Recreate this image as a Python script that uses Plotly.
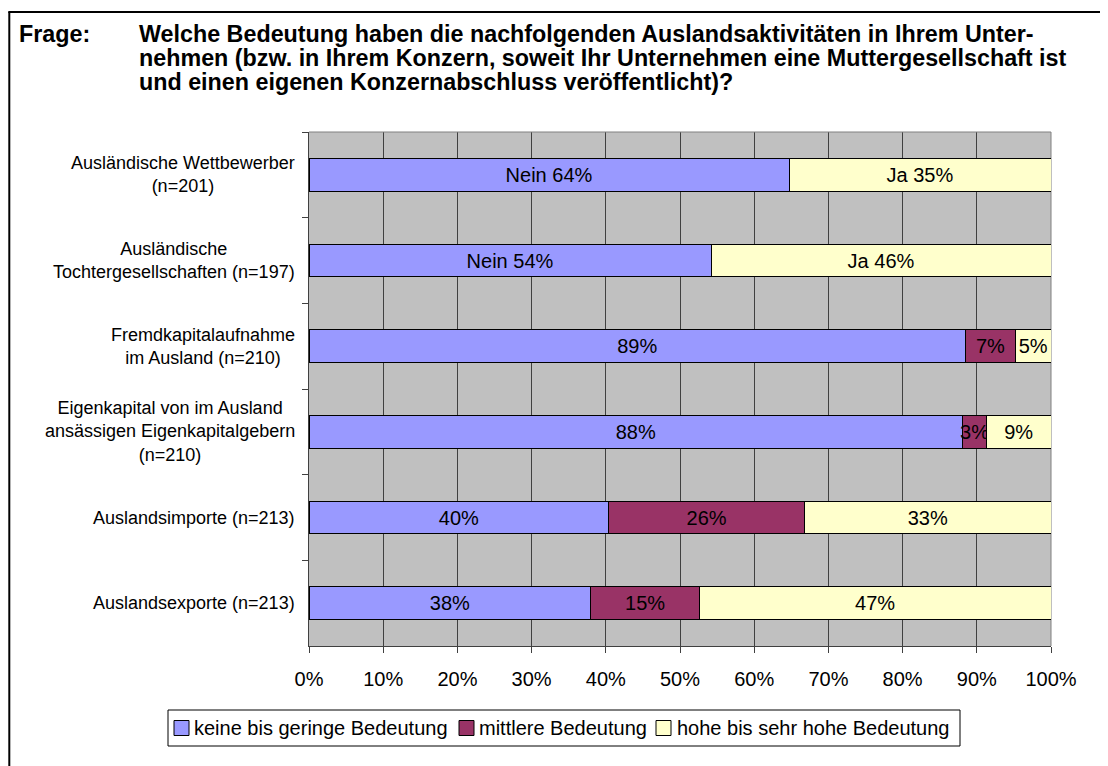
import plotly.graph_objects as go

# ---- data ----
categories = [
    "Ausländische Wettbewerber<br>(n=201)",
    "Ausländische<br>Tochtergesellschaften (n=197)",
    "Fremdkapitalaufnahme<br>im Ausland (n=210)",
    "Eigenkapital von im Ausland<br>ansässigen Eigenkapitalgebern<br>(n=210)",
    "Auslandsimporte (n=213)",
    "Auslandsexporte (n=213)",
]
series_names = ["keine bis geringe Bedeutung", "mittlere Bedeutung", "hohe bis sehr hohe Bedeutung"]
low_values = [64.7, 54.2, 88.5, 88.1, 40.4, 38.0]
mid_values = [None, None, 6.7, 3.2, 26.4, 14.6]
high_values = [35.3, 45.8, 4.8, 8.7, 33.2, 47.4]
low_labels = ["Nein 64%", "Nein 54%", "89%", "88%", "40%", "38%"]
mid_labels = ["", "", "7%", "3%", "26%", "15%"]
high_labels = ["Ja 35%", "Ja 46%", "5%", "9%", "33%", "47%"]
x_ticks = [0, 10, 20, 30, 40, 50, 60, 70, 80, 90, 100]

title_label = "Frage:"
title_lines = [
    "Welche Bedeutung haben die nachfolgenden Auslandsaktivitäten in Ihrem Unter-",
    "nehmen (bzw. in Ihrem Konzern, soweit Ihr Unternehmen eine Muttergesellschaft ist",
    "und einen eigenen Konzernabschluss veröffentlicht)?",
]

colors = ["#9999FF", "#993366", "#FFFFCC"]
FONT = "Arial, 'Liberation Sans', sans-serif"

# page body has an 8px margin -> build the figure 8px smaller and shifted
OFF = 8
W, H = 1108 - OFF, 766 - OFF
PL, PR, PT, PB = 309, 1051, 132, 646  # plot area in reference pixels


def px_x(px):
    return (px - PL) / (PR - PL)


def px_y(py):
    return (PB - py) / (PB - PT)


fig = go.Figure()
for name, vals, labels, col in zip(series_names,
                                   [low_values, mid_values, high_values],
                                   [low_labels, mid_labels, high_labels],
                                   colors):
    fig.add_trace(go.Bar(
        y=categories, x=vals, name=name, orientation="h",
        marker=dict(color=col, line=dict(color="#000000", width=1)),
        text=labels, textposition="inside", insidetextanchor="middle",
        textangle=0, constraintext="none", cliponaxis=False,
        insidetextfont=dict(family=FONT, size=20, color="#000000"),
        textfont=dict(family=FONT, size=20, color="#000000"),
        hoverinfo="skip", showlegend=False,
    ))

annotations = []
for c in categories:
    annotations.append(dict(
        xref="paper", yref="y", x=px_x(297), y=c, text=c, showarrow=False,
        xanchor="right", yanchor="middle", align="center",
        font=dict(family=FONT, size=18, color="#000000")))

TFS = 23.3
annotations.append(dict(
    xref="paper", yref="paper", x=px_x(17), y=px_y(34),
    text="<b>" + title_label + "</b>", showarrow=False, xanchor="left", yanchor="middle",
    font=dict(family=FONT, size=TFS, color="#000000")))
for i, line in enumerate(title_lines):
    annotations.append(dict(
        xref="paper", yref="paper", x=px_x(137), y=px_y(34 + 24 * i),
        text="<b>" + line + "</b>", showarrow=False, xanchor="left", yanchor="middle",
        align="left", font=dict(family=FONT, size=TFS, color="#000000")))

shapes = [
    # plot area border (top, right)
    dict(type="line", xref="paper", yref="paper", x0=0, x1=1, y0=1, y1=1,
         line=dict(color="#808080", width=1), layer="above"),
    dict(type="line", xref="paper", yref="paper", x0=1, x1=1, y0=0, y1=1,
         line=dict(color="#808080", width=1), layer="below"),
    # outer frame (left, top)
    dict(type="line", xref="paper", yref="paper", x0=px_x(9.3), x1=px_x(9.3),
         y0=-0.4, y1=px_y(12), line=dict(color="#000000", width=2)),
    dict(type="line", xref="paper", yref="paper", x0=px_x(8.3), x1=1.2,
         y0=px_y(12), y1=px_y(12), line=dict(color="#000000", width=2)),
]

# legend (drawn as box + swatches + labels, positions in reference pixels)
LEG_BOX = (168, 960, 710, 746)
LEG_SWATCH_X = [174, 459, 656]
LEG_TEXT_X = [193, 478, 676]
LEG_CY = 728
shapes.append(dict(type="rect", xref="paper", yref="paper",
                   x0=px_x(LEG_BOX[0]), x1=px_x(LEG_BOX[1]),
                   y0=px_y(LEG_BOX[3]), y1=px_y(LEG_BOX[2]),
                   fillcolor="#FFFFFF", line=dict(color="#000000", width=1)))
for name, col, sx, tx in zip(series_names, colors, LEG_SWATCH_X, LEG_TEXT_X):
    shapes.append(dict(type="rect", xref="paper", yref="paper",
                       x0=px_x(sx), x1=px_x(sx + 15),
                       y0=px_y(LEG_CY + 7.5), y1=px_y(LEG_CY - 7.5),
                       fillcolor=col, line=dict(color="#000000", width=1)))
    annotations.append(dict(
        xref="paper", yref="paper", x=px_x(tx), y=px_y(LEG_CY), text=name,
        showarrow=False, xanchor="left", yanchor="middle", borderpad=0,
        font=dict(family=FONT, size=20, color="#000000")))

fig.update_layout(
    width=W, height=H,
    margin=dict(l=PL - OFF, r=1108 - PR, t=PT - OFF, b=766 - PB, autoexpand=False),
    barmode="stack", bargap=0.615,
    paper_bgcolor="#FFFFFF", plot_bgcolor="#C0C0C0",
    font=dict(family=FONT, size=20, color="#000000"),
    showlegend=False,
    annotations=annotations,
    shapes=shapes,
    xaxis=dict(range=[0, 100], tickvals=x_ticks, ticktext=[f"{v}%" for v in x_ticks],
               showgrid=True, gridcolor="#404040", gridwidth=1,
               ticks="outside", ticklen=6, tickcolor="#404040",
               showline=True, linecolor="#404040", linewidth=1, zeroline=False,
               ticklabelstandoff=9,
               tickfont=dict(family=FONT, size=20, color="#000000")),
    yaxis=dict(type="category", categoryorder="array", categoryarray=categories,
               autorange="reversed", showticklabels=False, showgrid=False,
               ticks="outside", tickson="boundaries", ticklen=6, tickcolor="#404040",
               showline=True, linecolor="#404040", linewidth=1, zeroline=False),
)

fig.write_html("out.html")
